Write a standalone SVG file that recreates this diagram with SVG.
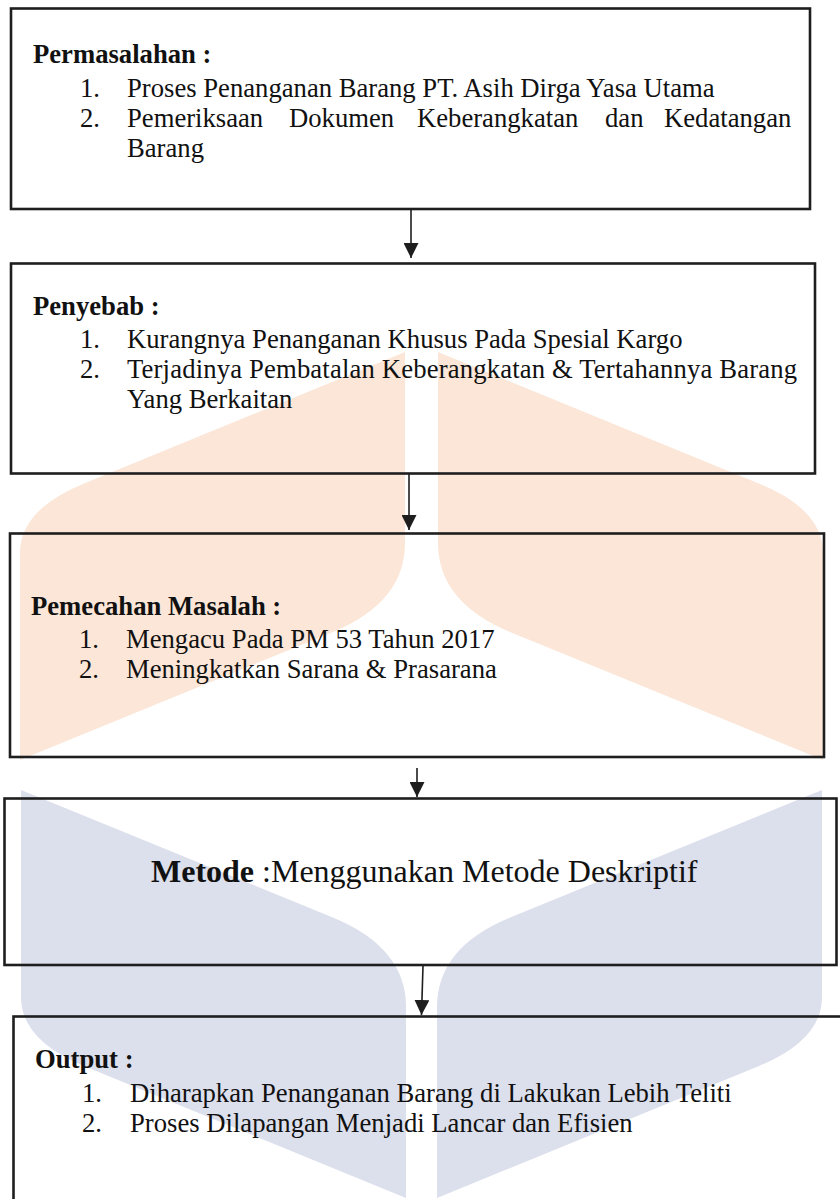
<svg xmlns="http://www.w3.org/2000/svg" width="840" height="1199" viewBox="0 0 840 1199">
  <style>
    .box { fill: none; stroke: #1e1e1e; stroke-width: 2.6; }
    .t { font-family: "Liberation Serif", "Times New Roman", serif; font-size: 26.67px; fill: #111; }
    .b { font-weight: bold; }
    .big { font-size: 32px; }
    .conn { stroke: #1e1e1e; stroke-width: 1.6; fill: none; marker-end: url(#arr); }
    .wm-o { fill: #FBE6D7; }
    .wm-b { fill: #DCDFEC; }
  </style>
  <defs>
    <marker id="arr" markerUnits="userSpaceOnUse" markerWidth="15" markerHeight="15" refX="15" refY="7.5" orient="auto" viewBox="0 0 15 15">
      <path d="M0,0 L15,7.5 L0,15 Z" fill="#1e1e1e"/>
    </marker>
    <path id="wmo" d="M405,352 L405,543 Q405,602 333,632 L20,760 L20,553 Q20,510 83,484 Z"/>
  </defs>
  <rect x="0" y="0" width="840" height="1199" fill="#ffffff"/>

  <g id="watermark">
    <use href="#wmo" class="wm-o"/>
    <use href="#wmo" class="wm-o" transform="translate(843,0) scale(-1,1)"/>
    <use href="#wmo" class="wm-b" transform="translate(1,1550) scale(1,-1)"/>
    <use href="#wmo" class="wm-b" transform="translate(842,1550) scale(-1,-1)"/>
  </g>

  <g id="connectors">
    <line class="conn" x1="411" y1="209" x2="411" y2="258"/>
    <line class="conn" x1="409" y1="473" x2="409" y2="530"/>
    <line class="conn" x1="417" y1="768" x2="417" y2="797"/>
    <line class="conn" x1="423" y1="966" x2="421.5" y2="1015"/>
  </g>

  <g id="permasalahan">
    <rect class="box" x="11" y="8.5" width="799" height="200.5"/>
    <text class="t b" x="33" y="63">Permasalahan :</text>
    <text class="t" x="80" y="97">1.</text>
    <text class="t" x="127" y="97">Proses Penanganan Barang PT. Asih Dirga Yasa Utama</text>
    <text class="t" x="80" y="127">2.</text>
    <text class="t" y="127"><tspan x="127">Pemeriksaan</tspan><tspan x="289">Dokumen</tspan><tspan x="417">Keberangkatan</tspan><tspan x="605">dan</tspan><tspan x="664">Kedatangan</tspan></text>
    <text class="t" x="127" y="157">Barang</text>
  </g>

  <g id="penyebab">
    <rect class="box" x="11" y="263.5" width="804" height="210"/>
    <text class="t b" x="33" y="315">Penyebab :</text>
    <text class="t" x="80" y="348">1.</text>
    <text class="t" x="127" y="348">Kurangnya Penanganan Khusus Pada Spesial Kargo</text>
    <text class="t" x="80" y="378">2.</text>
    <text class="t" x="127" y="378" textLength="670" lengthAdjust="spacing">Terjadinya Pembatalan Keberangkatan &amp; Tertahannya Barang</text>
    <text class="t" x="127" y="408">Yang Berkaitan</text>
  </g>

  <g id="pemecahan">
    <rect class="box" x="10" y="533.5" width="814" height="223.5"/>
    <text class="t b" x="31" y="615">Pemecahan Masalah :</text>
    <text class="t" x="79" y="648">1.</text>
    <text class="t" x="126" y="648">Mengacu Pada PM 53 Tahun 2017</text>
    <text class="t" x="79" y="678">2.</text>
    <text class="t" x="126" y="678">Meningkatkan Sarana &amp; Prasarana</text>
  </g>

  <g id="metode">
    <rect class="box" x="4.5" y="798.5" width="832" height="166.5"/>
    <text class="t big" x="151" y="882"><tspan class="b">Metode</tspan> :Menggunakan Metode Deskriptif</text>
  </g>

  <g id="output">
    <rect class="box" x="13.5" y="1016.5" width="840" height="300"/>
    <text class="t b" x="35" y="1068">Output :</text>
    <text class="t" x="82" y="1102">1.</text>
    <text class="t" x="130" y="1102">Diharapkan Penanganan Barang di Lakukan Lebih Teliti</text>
    <text class="t" x="82" y="1132">2.</text>
    <text class="t" x="130" y="1132">Proses Dilapangan Menjadi Lancar dan Efisien</text>
  </g>
</svg>
